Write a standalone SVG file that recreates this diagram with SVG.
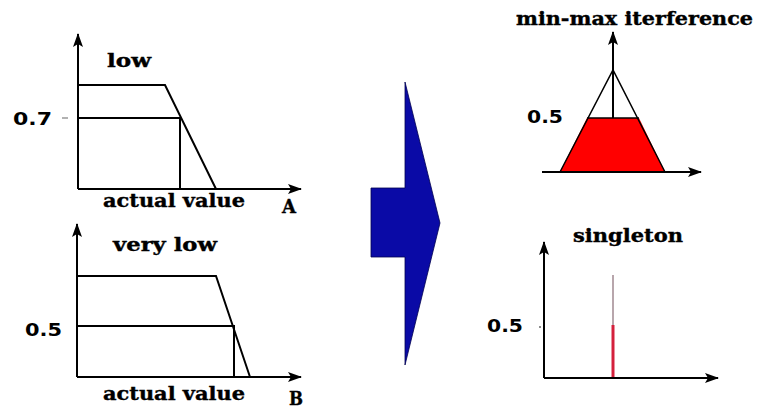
<svg xmlns="http://www.w3.org/2000/svg" width="757" height="410" viewBox="0 0 757 410">
<defs>
<marker id="ah" viewBox="0 0 14 10" refX="13" refY="5" markerWidth="14" markerHeight="10" markerUnits="userSpaceOnUse" orient="auto">
<path d="M0,0 L14,5 L0,10 L3,5 Z" fill="#000"/>
</marker>
</defs>
<style>
.ax{stroke:#000;stroke-width:2;fill:none}
.ln{stroke:#000;stroke-width:2;fill:none}
.thin{stroke:#000;stroke-width:1.5;fill:none}
.lbl{font-family:"DejaVu Serif","Liberation Serif",serif;font-weight:bold;font-size:19px;fill:#000;stroke:#000;stroke-width:0.4}
.num{font-family:"DejaVu Sans","Liberation Sans",sans-serif;font-weight:bold;font-size:18px;fill:#000}
.numr{font-family:"DejaVu Sans","Liberation Sans",sans-serif;font-weight:600;font-size:18px;fill:#000}
</style>
<rect width="757" height="410" fill="#fff"/>

<g id="chartA">
<line class="ax" x1="78" y1="189" x2="78" y2="34" marker-end="url(#ah)"/>
<line class="ax" x1="78" y1="189" x2="301" y2="189" marker-end="url(#ah)"/>
<polyline class="ln" points="78,85 165,85 216,189"/>
<polyline class="ln" points="78,118 180,118 180,189"/>
<line x1="62" y1="118" x2="68" y2="118" stroke="#999" stroke-width="1.5"/>
<text class="lbl" x="107" y="67" textLength="44" lengthAdjust="spacingAndGlyphs">low</text>
<text class="num" x="13" y="125" textLength="39" lengthAdjust="spacingAndGlyphs">0.7</text>
<text class="lbl" x="103" y="207" textLength="142" lengthAdjust="spacingAndGlyphs">actual value</text>
<text class="lbl" x="282" y="213" textLength="14" lengthAdjust="spacingAndGlyphs">A</text>
</g>

<g id="chartB">
<line class="ax" x1="77" y1="377" x2="77" y2="224" marker-end="url(#ah)"/>
<line class="ax" x1="77" y1="377" x2="301" y2="377" marker-end="url(#ah)"/>
<polyline class="ln" points="77,276 216,276 250,377"/>
<polyline class="ln" points="77,326 234,326 234,377"/>
<text class="lbl" x="113" y="251" textLength="104" lengthAdjust="spacingAndGlyphs">very low</text>
<text class="num" x="25" y="336" textLength="37" lengthAdjust="spacingAndGlyphs">0.5</text>
<text class="lbl" x="103" y="400" textLength="142" lengthAdjust="spacingAndGlyphs">actual value</text>
<text class="lbl" x="289" y="405" textLength="14" lengthAdjust="spacingAndGlyphs">B</text>
</g>

<g id="bigArrow">
<polygon points="405,82 440,223 405,365 405,257 371,257 371,188 405,188" fill="#0a0aa6" stroke="#000050" stroke-width="0.8"/>
</g>

<g id="chartMinMax">
<polygon points="560,172 587,118 639,118 665,172" fill="#ff0000"/>
<polyline class="thin" points="560,172 613,70 665,172"/>
<line class="thin" x1="587" y1="118" x2="639" y2="118"/>
<line class="ax" x1="613" y1="118" x2="613" y2="32" marker-end="url(#ah)"/>
<line class="ax" x1="542" y1="172" x2="701" y2="172" marker-end="url(#ah)"/>
<text class="lbl" x="516" y="25" textLength="237" lengthAdjust="spacingAndGlyphs">min-max iterference</text>
<text class="numr" x="527" y="123" textLength="36" lengthAdjust="spacingAndGlyphs">0.5</text>
</g>

<g id="chartSingleton">
<line class="ax" x1="544" y1="378" x2="544" y2="242" marker-end="url(#ah)"/>
<line class="ax" x1="544" y1="378" x2="718" y2="378" marker-end="url(#ah)"/>
<line x1="613" y1="275" x2="613" y2="326" stroke="#a08890" stroke-width="1.5"/>
<line x1="613" y1="325" x2="613" y2="377" stroke="#d4203c" stroke-width="3"/>
<circle cx="540" cy="327" r="1" fill="#666"/>
<text class="lbl" x="573" y="242" textLength="110" lengthAdjust="spacingAndGlyphs">singleton</text>
<text class="num" x="487" y="332" textLength="36" lengthAdjust="spacingAndGlyphs">0.5</text>
</g>
</svg>
